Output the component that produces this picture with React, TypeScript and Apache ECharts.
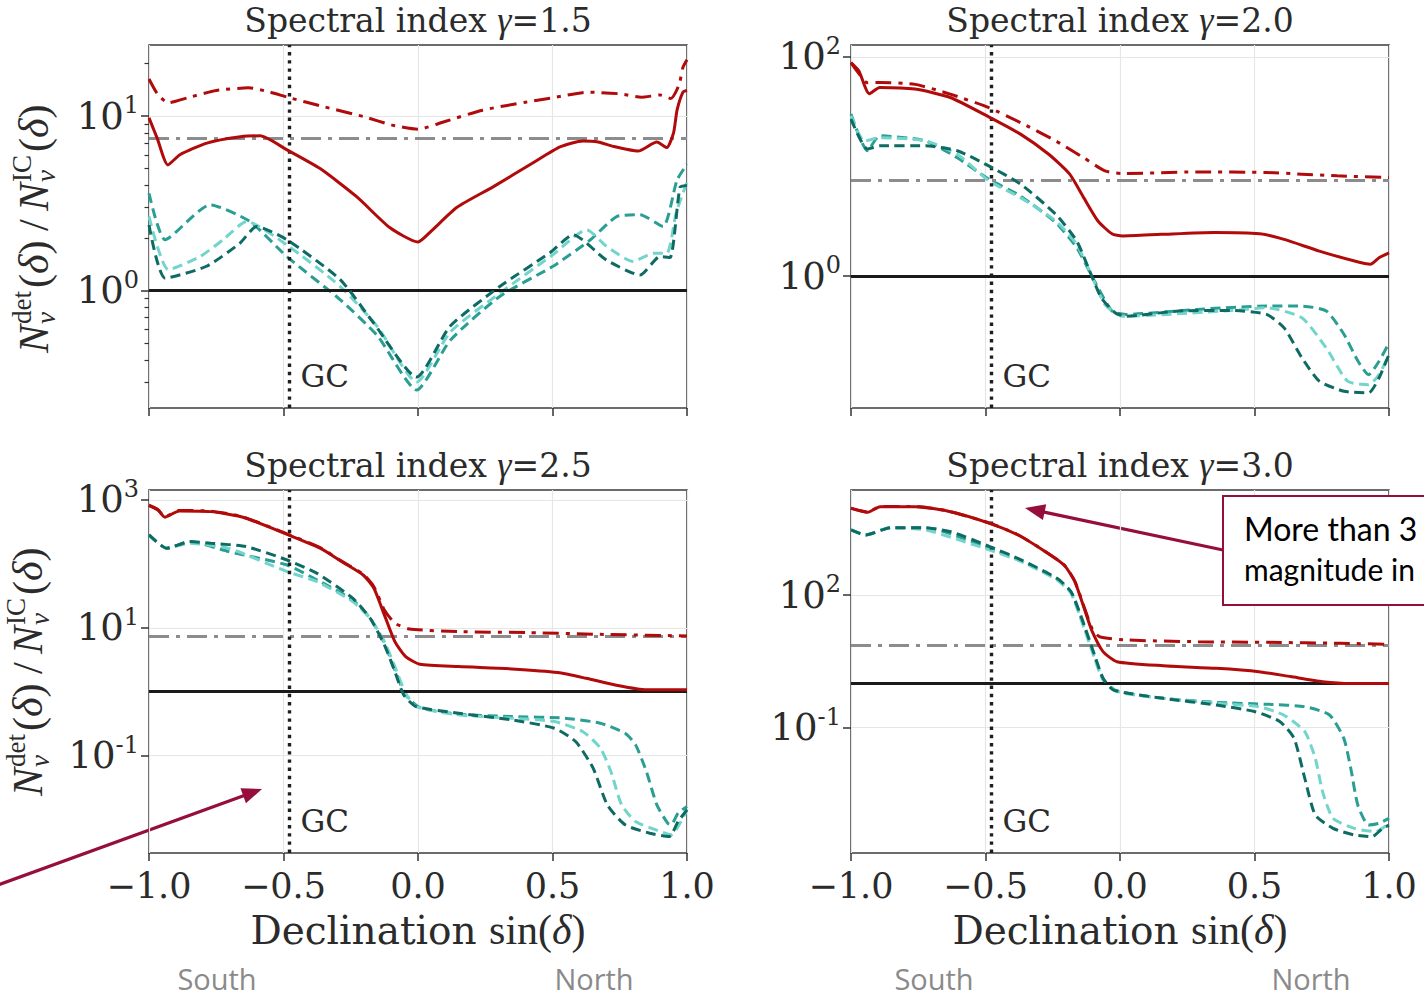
import React, { useEffect, useRef } from "react";
import * as echarts from "echarts";

type Pt = [number, number];

// ---------------- axis / panel values ----------------
const gammaLabels = ["1.5", "2.0", "2.5", "3.0"];
const yMins = [0.213, 0.0626, 0.00299, 0.000147];
const yMaxs = [25.5, 128, 1432, 23660];
const yMajors = [[1, 10], [1, 100], [0.1, 10, 1000], [0.1, 100]];
const yMinorsTL = [0.3, 0.4, 0.5, 0.6, 0.7, 0.8, 0.9, 2, 3, 4, 5, 6, 7, 8, 9, 20];
const unityLevel = 1;
const grayLevel = 7.5;
const gcSinDec = -0.485;

// ---------------- gamma = 1.5 ----------------
const g15RedSolid: Pt[] = [[-1, 9.75], [-0.97, 7.5], [-0.93, 5.25], [-0.885, 6.0], [-0.785, 7.0], [-0.66, 7.6], [-0.587, 7.7], [-0.487, 6.4], [-0.364, 5.0], [-0.227, 3.44], [-0.104, 2.29], [0, 1.9], [0.05, 2.2], [0.145, 3.0], [0.279, 3.93], [0.428, 5.4], [0.528, 6.65], [0.613, 7.2], [0.67, 7.1], [0.725, 6.7], [0.818, 6.3], [0.888, 7.1], [0.925, 6.6], [0.95, 8], [0.963, 10.8], [0.985, 13.7], [1, 14]];
const g15RedDashDot: Pt[] = [[-1, 16.3], [-0.97, 13.5], [-0.93, 11.9], [-0.85, 12.8], [-0.75, 14.0], [-0.63, 14.5], [-0.55, 13.7], [-0.485, 12.8], [-0.35, 11.3], [-0.2, 9.9], [-0.1, 8.9], [0, 8.4], [0.1, 9.3], [0.24, 10.8], [0.4, 12], [0.5, 12.7], [0.63, 13.7], [0.75, 13.4], [0.83, 12.8], [0.9, 13.2], [0.94, 12.6], [0.97, 15], [0.985, 19], [1, 21]];
const g15TealDark: Pt[] = [[-1, 2.38], [-0.94, 1.18], [-0.786, 1.38], [-0.662, 1.87], [-0.6, 2.33], [-0.488, 1.96], [-0.29, 1.16], [-0.167, 0.66], [-0.005, 0.32], [0.119, 0.625], [0.305, 1.06], [0.491, 1.65], [0.577, 2.09], [0.7, 1.5], [0.825, 1.23], [0.9, 1.57], [0.937, 1.55], [0.974, 3.9], [1, 4.0]];
const g15TealLight: Pt[] = [[-1, 2.66], [-0.928, 1.32], [-0.81, 1.57], [-0.724, 1.96], [-0.637, 2.49], [-0.488, 1.83], [-0.29, 1.06], [-0.15, 0.62], [-0.005, 0.3], [0.12, 0.58], [0.305, 0.97], [0.5, 1.6], [0.627, 2.23], [0.7, 1.8], [0.8, 1.47], [0.875, 1.64], [0.925, 1.64], [0.96, 2.8], [1, 4.2]];
const g15TealMid: Pt[] = [[-1, 3.61], [-0.94, 1.96], [-0.773, 3.1], [-0.625, 2.49], [-0.488, 1.57], [-0.29, 0.89], [-0.15, 0.55], [-0.005, 0.27], [0.12, 0.52], [0.305, 0.93], [0.502, 1.38], [0.64, 1.95], [0.74, 2.66], [0.825, 2.72], [0.911, 2.33], [0.963, 4.3], [1, 5.3]];

// ---------------- gamma = 2.0 ----------------
const g20RedSolid: Pt[] = [[-1, 88.7], [-0.971, 74.5], [-0.932, 46], [-0.893, 52.5], [-0.762, 50.7], [-0.631, 42.5], [-0.488, 28.3], [-0.37, 19.7], [-0.265, 12.9], [-0.187, 8.5], [-0.135, 5.19], [-0.082, 3.18], [-0.03, 2.43], [0.009, 2.32], [0.153, 2.4], [0.349, 2.5], [0.519, 2.43], [0.61, 2.16], [0.741, 1.69], [0.872, 1.37], [0.931, 1.28], [0.963, 1.47], [1, 1.63]];
const g20RedDashDot: Pt[] = [[-1, 88], [-0.97, 70], [-0.94, 58], [-0.893, 58.2], [-0.762, 56], [-0.631, 45.6], [-0.488, 34.4], [-0.37, 25.1], [-0.239, 17.1], [-0.135, 12.0], [-0.056, 9.1], [0.009, 8.6], [0.284, 8.9], [0.545, 8.8], [0.676, 8.5], [0.807, 8.2], [1, 7.9]];
const g20TealDark: Pt[] = [[-1, 27], [-0.939, 14.4], [-0.893, 15.4], [-0.723, 15.4], [-0.605, 13.9], [-0.488, 10.1], [-0.37, 6.9], [-0.239, 3.66], [-0.161, 2.09], [-0.108, 1.04], [-0.069, 0.63], [-0.017, 0.46], [0.022, 0.43], [0.218, 0.48], [0.414, 0.485], [0.545, 0.447], [0.61, 0.337], [0.676, 0.18], [0.741, 0.11], [0.833, 0.089], [0.924, 0.086], [0.963, 0.118], [1, 0.193]];
const g20TealLight: Pt[] = [[-1, 28.9], [-0.95, 17], [-0.893, 18.3], [-0.723, 17.1], [-0.605, 12.9], [-0.488, 7.4], [-0.37, 5.19], [-0.239, 3.18], [-0.161, 1.95], [-0.108, 1.04], [-0.056, 0.55], [0.009, 0.43], [0.414, 0.485], [0.545, 0.514], [0.676, 0.416], [0.767, 0.22], [0.846, 0.11], [0.924, 0.102], [0.963, 0.126], [1, 0.193]];
const g20TealMid: Pt[] = [[-1, 30], [-0.939, 13.9], [-0.893, 19], [-0.723, 17.1], [-0.605, 12.0], [-0.488, 7.64], [-0.37, 5.37], [-0.239, 3.07], [-0.161, 1.82], [-0.095, 0.9], [-0.03, 0.48], [0.022, 0.447], [0.284, 0.496], [0.545, 0.532], [0.676, 0.532], [0.767, 0.48], [0.833, 0.293], [0.885, 0.167], [0.924, 0.126], [0.963, 0.167], [1, 0.246]];

// ---------------- gamma = 2.5 ----------------
const g25RedSolid: Pt[] = [[-1, 815], [-0.967, 698], [-0.941, 536], [-0.888, 673], [-0.77, 657], [-0.651, 536], [-0.487, 290], [-0.362, 175], [-0.283, 108], [-0.204, 67], [-0.164, 41.5], [-0.125, 15.9], [-0.086, 6.08], [-0.046, 3.55], [0.007, 2.69], [0.151, 2.47], [0.349, 2.27], [0.52, 1.99], [0.625, 1.62], [0.743, 1.25], [0.849, 1.07], [1, 1.07]];
const g25RedDashDot: Pt[] = [[-1, 830], [-0.967, 710], [-0.941, 545], [-0.888, 685], [-0.77, 668], [-0.651, 545], [-0.487, 295], [-0.362, 178], [-0.283, 110], [-0.204, 69], [-0.164, 44], [-0.125, 19], [-0.086, 11.8], [-0.033, 9.6], [0.151, 8.7], [0.414, 8.4], [0.677, 7.9], [1, 7.46]];
const g25TealDark: Pt[] = [[-1, 284], [-0.934, 175], [-0.849, 223], [-0.77, 210], [-0.638, 186], [-0.487, 115], [-0.375, 71], [-0.243, 29], [-0.178, 14.1], [-0.125, 5.4], [-0.086, 2.07], [-0.053, 0.89], [-0.007, 0.585], [0.151, 0.46], [0.349, 0.362], [0.507, 0.268], [0.586, 0.166], [0.651, 0.0635], [0.704, 0.0169], [0.77, 0.00826], [0.862, 0.0061], [0.934, 0.00542], [0.967, 0.0093], [1, 0.0142]];
const g25TealLight: Pt[] = [[-1, 284], [-0.934, 175], [-0.849, 210], [-0.704, 175], [-0.487, 75.7], [-0.375, 52.7], [-0.243, 25.7], [-0.178, 14.1], [-0.125, 6.08], [-0.086, 2.47], [-0.046, 0.946], [-0.007, 0.585], [0.151, 0.434], [0.349, 0.385], [0.507, 0.341], [0.612, 0.238], [0.678, 0.131], [0.717, 0.0563], [0.757, 0.0169], [0.809, 0.0093], [0.901, 0.0065], [0.941, 0.00575], [1, 0.0142]];
const g25TealMid: Pt[] = [[-1, 284], [-0.934, 175], [-0.849, 223], [-0.704, 156], [-0.487, 96], [-0.375, 56], [-0.243, 27.3], [-0.178, 14.1], [-0.125, 5.73], [-0.086, 2.19], [-0.046, 0.89], [0.007, 0.565], [0.151, 0.445], [0.349, 0.408], [0.546, 0.385], [0.678, 0.321], [0.77, 0.224], [0.809, 0.147], [0.849, 0.0563], [0.888, 0.0169], [0.928, 0.00877], [0.941, 0.0083], [0.967, 0.0126], [1, 0.016]];

// ---------------- gamma = 3.0 ----------------
const g30RedSolid: Pt[] = [[-1, 9100], [-0.964, 7925], [-0.938, 7400], [-0.892, 9930], [-0.761, 9930], [-0.642, 7925], [-0.484, 4170], [-0.379, 2270], [-0.287, 1040], [-0.208, 476], [-0.168, 200], [-0.129, 42], [-0.103, 14.8], [-0.063, 5.24], [-0.011, 3.11], [0.161, 2.52], [0.358, 2.2], [0.516, 1.85], [0.634, 1.43], [0.753, 1.1], [0.858, 1.0], [1, 1.0]];
const g30RedDashDot: Pt[] = [[-1, 9200], [-0.964, 8000], [-0.938, 7500], [-0.892, 10000], [-0.761, 10000], [-0.642, 8000], [-0.484, 4200], [-0.379, 2300], [-0.287, 1050], [-0.208, 480], [-0.168, 205], [-0.129, 45], [-0.103, 17], [-0.076, 11.4], [0.029, 9.6], [0.29, 8.8], [0.555, 8.5], [0.818, 8.1], [1, 7.7]];
const g30TealDark: Pt[] = [[-1, 2950], [-0.945, 2270], [-0.853, 3330], [-0.734, 3330], [-0.629, 2700], [-0.484, 1240], [-0.366, 618], [-0.234, 238], [-0.182, 119], [-0.142, 29.6], [-0.103, 6.2], [-0.063, 1.31], [-0.024, 0.71], [0.161, 0.461], [0.358, 0.326], [0.503, 0.23], [0.595, 0.137], [0.647, 0.0575], [0.687, 0.00716], [0.726, 0.00106], [0.792, 0.00053], [0.871, 0.000375], [0.937, 0.000344], [0.976, 0.00053], [1, 0.00063]];
const g30TealLight: Pt[] = [[-1, 2950], [-0.945, 2270], [-0.853, 3330], [-0.721, 2950], [-0.484, 1040], [-0.366, 567], [-0.234, 218], [-0.182, 109], [-0.142, 24.9], [-0.103, 5.24], [-0.063, 1.2], [-0.011, 0.653], [0.161, 0.461], [0.358, 0.356], [0.516, 0.299], [0.608, 0.194], [0.687, 0.0813], [0.726, 0.0203], [0.753, 0.00358], [0.792, 0.000893], [0.871, 0.00053], [0.95, 0.000447], [1, 0.000689]];
const g30TealMid: Pt[] = [[-1, 2950], [-0.945, 2270], [-0.853, 3330], [-0.721, 3330], [-0.484, 1135], [-0.366, 588], [-0.234, 230], [-0.182, 115], [-0.142, 27.2], [-0.103, 5.71], [-0.063, 1.26], [-0.011, 0.676], [0.161, 0.461], [0.358, 0.374], [0.555, 0.337], [0.687, 0.299], [0.779, 0.194], [0.832, 0.0575], [0.858, 0.012], [0.884, 0.00179], [0.924, 0.00063], [0.963, 0.000689], [1, 0.000893]];

const panelCurves = [
  { solid: g15RedSolid, dashDot: g15RedDashDot, dark: g15TealDark, light: g15TealLight, mid: g15TealMid },
  { solid: g20RedSolid, dashDot: g20RedDashDot, dark: g20TealDark, light: g20TealLight, mid: g20TealMid },
  { solid: g25RedSolid, dashDot: g25RedDashDot, dark: g25TealDark, light: g25TealLight, mid: g25TealMid },
  { solid: g30RedSolid, dashDot: g30RedDashDot, dark: g30TealDark, light: g30TealLight, mid: g30TealMid },
];

// ---------------- layout & style ----------------
const GW = 538;
const GH = 363;
const gridPos = [
  { left: 149, top: 45 },
  { left: 851, top: 45 },
  { left: 149, top: 490 },
  { left: 851, top: 490 },
];
const RED = "#b00a0a";
const TEAL_D = "#0e6b63";
const TEAL_M = "#2a9e93";
const TEAL_L = "#72d5cb";
const GRAY = "#8c8c8c";
const INK = "#2b2b2b";
const MAROON = "#960f3c";
const SERIF = "DejaVu Serif";
const MATH = "Liberation Serif";
const LW = 3;

function fmtX(v: number) {
  const s = Math.abs(v).toFixed(1);
  return v < 0 ? "\u2212" + s : s;
}
function fmtY(v: number) {
  const e = Math.round(Math.log10(v));
  return `{b|10}{s|${e}}`;
}

function lineSeries(i: number, data: Pt[], color: string, type: any, width: number, z: number, extra: any = {}) {
  return {
    type: "line",
    xAxisIndex: i,
    yAxisIndex: i,
    data,
    showSymbol: false,
    symbol: "none",
    smooth: 0.2,
    silent: true,
    z,
    lineStyle: { color, width, type, cap: "butt" },
    ...extra,
  };
}

function yTitle(cx: number, cy: number) {
  const F = 42;
  const S = 27;
  const off = -125;
  const t = (text: string, x: number, y: number, size: number, italic: boolean) => ({
    type: "text",
    x: x + off,
    y,
    style: {
      text,
      fontFamily: MATH,
      fontSize: size,
      fontStyle: italic ? "italic" : "normal",
      fill: INK,
      align: "left",
      verticalAlign: "middle",
    },
  });
  const paren = (x: number) => ({
    type: "text",
    x: x + off,
    y: 0,
    style: {
      text: "{p|(}{i|\u03b4}{p|)}",
      rich: {
        p: { fontFamily: MATH, fontSize: F, fill: INK },
        i: { fontFamily: MATH, fontSize: F, fontStyle: "italic", fill: INK },
      },
      align: "left",
      verticalAlign: "middle",
    },
  });
  return {
    type: "group",
    x: cx,
    y: cy,
    rotation: Math.PI / 2,
    silent: true,
    children: [
      t("N", 0, 0, F, true),
      t("det", 29, -12, S, false),
      t("\u03bd", 29, 12, S, true),
      paren(65),
      t("/", 122, 0, F, false),
      t("N", 142, 0, F, true),
      t("IC", 171, -12, S, false),
      t("\u03bd", 171, 12, S, true),
      paren(201),
    ],
  };
}

function arrow(x0: number, y0: number, x1: number, y1: number) {
  const dx = x1 - x0;
  const dy = y1 - y0;
  const L = Math.hypot(dx, dy);
  const ux = dx / L;
  const uy = dy / L;
  const hl = 20;
  const hw = 8;
  const bx = x1 - ux * hl;
  const by = y1 - uy * hl;
  return [
    {
      type: "line",
      silent: true,
      shape: { x1: x0, y1: y0, x2: bx + ux * 4, y2: by + uy * 4 },
      style: { stroke: MAROON, lineWidth: 3.2 },
    },
    {
      type: "polygon",
      silent: true,
      shape: {
        points: [
          [x1, y1],
          [bx - uy * hw, by + ux * hw],
          [bx + uy * hw, by - ux * hw],
        ],
      },
      style: { fill: MAROON },
    },
  ];
}

function buildOption() {
  const grid = gridPos.map((g) => ({
    ...g,
    width: GW,
    height: GH,
    show: true,
    borderColor: "#3c3c3c",
    borderWidth: 1.6,
    backgroundColor: "transparent",
    containLabel: false,
  }));

  const xAxis = gridPos.map((_, i) => ({
    type: "value",
    gridIndex: i,
    min: -1,
    max: 1,
    interval: 0.5,
    axisLine: { show: false, onZero: false },
    axisTick: { show: true, length: 8, lineStyle: { color: "#333", width: 1.5 } },
    axisLabel: {
      show: i >= 2,
      margin: 15,
      fontFamily: SERIF,
      fontSize: 35,
      color: INK,
      formatter: fmtX,
    },
    splitLine: { show: true, lineStyle: { color: "#e6e6e6", width: 1.2 } },
    name: i >= 2 ? "{t|Declination }{m|sin(}{mi|\u03b4}{m|)}" : "",
    nameLocation: "middle",
    nameGap: 56,
    nameTextStyle: {
      rich: {
        t: { fontFamily: SERIF, fontSize: 39, color: INK },
        m: { fontFamily: MATH, fontSize: 42, color: INK },
        mi: { fontFamily: MATH, fontSize: 42, fontStyle: "italic", color: INK },
      },
    },
  }));

  const yAxis: any[] = gridPos.map((_, i) => ({
    type: "log",
    logBase: 10,
    gridIndex: i,
    position: "left",
    min: yMins[i],
    max: yMaxs[i],
    axisLine: { show: false, onZero: false },
    axisTick: { show: true, length: 8, customValues: yMajors[i], lineStyle: { color: "#333", width: 1.5 } },
    minorTick: { show: false },
    axisLabel: {
      show: true,
      customValues: yMajors[i],
      margin: 10,
      formatter: fmtY,
      rich: {
        b: { fontFamily: SERIF, fontSize: 37, color: INK, lineHeight: 46 },
        s: { fontFamily: SERIF, fontSize: 24, color: INK, verticalAlign: "top", lineHeight: 24 },
      },
    },
    splitLine: { show: true, lineStyle: { color: "#e6e6e6", width: 1.2 } },
  }));
  yAxis.push({
    type: "log",
    logBase: 10,
    gridIndex: 0,
    position: "left",
    min: yMins[0],
    max: yMaxs[0],
    axisLine: { show: false, onZero: false },
    axisTick: { show: true, length: 4.5, customValues: yMinorsTL, lineStyle: { color: "#333", width: 1.2 } },
    axisLabel: { show: false },
    splitLine: { show: false },
  });

  const tealDash = [10, 5.5];
  const series: any[] = [];
  panelCurves.forEach((c, i) => {
    series.push(lineSeries(i, c.mid, TEAL_M, tealDash, LW, 3));
    series.push(lineSeries(i, c.light, TEAL_L, tealDash, LW, 4));
    series.push(lineSeries(i, c.dark, TEAL_D, tealDash, LW, 5));
    series.push(lineSeries(i, c.dashDot, RED, [16, 7, 4, 7], LW, 6));
    series.push(
      lineSeries(i, c.solid, RED, "solid", LW, 7, {
        markLine: {
          silent: true,
          symbol: ["none", "none"],
          label: { show: false },
          animation: false,
          data: [
            { yAxis: grayLevel, lineStyle: { color: GRAY, width: 3, type: [20, 7, 4, 7] } },
            { yAxis: unityLevel, lineStyle: { color: "#1a1a1a", width: 2.8, type: "solid" } },
            { xAxis: gcSinDec, lineStyle: { color: "#1e1e1e", width: 3.4, type: [3.4, 4.8] } },
          ],
        },
      })
    );
  });

  const graphic: any[] = [];
  gridPos.forEach((g, i) => {
    graphic.push({
      type: "text",
      x: g.left + GW / 2,
      y: g.top - 25,
      silent: true,
      style: {
        text: `{a|Spectral index }{g|\u03b3}{a|=${gammaLabels[i]}}`,
        rich: {
          a: { fontFamily: SERIF, fontSize: 33, fill: INK },
          g: { fontFamily: MATH, fontSize: 36, fontStyle: "italic", fill: INK },
        },
        align: "center",
        verticalAlign: "middle",
      },
    });
    graphic.push({
      type: "text",
      x: g.left + ((gcSinDec + 1) / 2) * GW + 13,
      y: g.top + GH - 32,
      silent: true,
      style: { text: "GC", fontFamily: SERIF, fontSize: 31, fill: INK, align: "left", verticalAlign: "middle" },
    });
  });
  graphic.push(yTitle(34, 228));
  graphic.push(yTitle(28, 671));
  [
    { text: "South", x: 217 },
    { text: "North", x: 594 },
    { text: "South", x: 934 },
    { text: "North", x: 1311 },
  ].forEach((h) =>
    graphic.push({
      type: "text",
      x: h.x,
      y: 978,
      silent: true,
      style: { text: h.text, fontFamily: "Open Sans", fontSize: 29, fill: "#8a8a8a", align: "center", verticalAlign: "middle" },
    })
  );
  graphic.push(...arrow(-5, 886, 262, 789));
  graphic.push(...arrow(1223, 550, 1025, 508));
  graphic.push({
    type: "rect",
    silent: true,
    shape: { x: 1223, y: 496, width: 260, height: 109 },
    style: { fill: "#ffffff", stroke: MAROON, lineWidth: 2 },
    z: 10,
  });
  graphic.push({
    type: "text",
    x: 1244,
    y: 528,
    silent: true,
    z: 11,
    style: { text: "More than 3", fontFamily: "Lato", fontSize: 32, fill: "#000", align: "left", verticalAlign: "middle" },
  });
  graphic.push({
    type: "text",
    x: 1244,
    y: 569,
    silent: true,
    z: 11,
    style: { text: "magnitude in", fontFamily: "Lato", fontSize: 30, fill: "#000", align: "left", verticalAlign: "middle" },
  });

  return {
    animation: false,
    backgroundColor: "#ffffff",
    grid,
    xAxis,
    yAxis,
    series,
    graphic,
  };
}

export default function App() {
  const ref = useRef<HTMLDivElement>(null);
  useEffect(() => {
    if (!ref.current) return;
    const chart = echarts.init(ref.current, null, { renderer: "svg" });
    chart.setOption(buildOption() as any);
    return () => chart.dispose();
  }, []);
  return (
    <div
      ref={ref}
      style={{ position: "absolute", left: 0, top: 0, width: 1424, height: 998, background: "#fff" }}
    />
  );
}
